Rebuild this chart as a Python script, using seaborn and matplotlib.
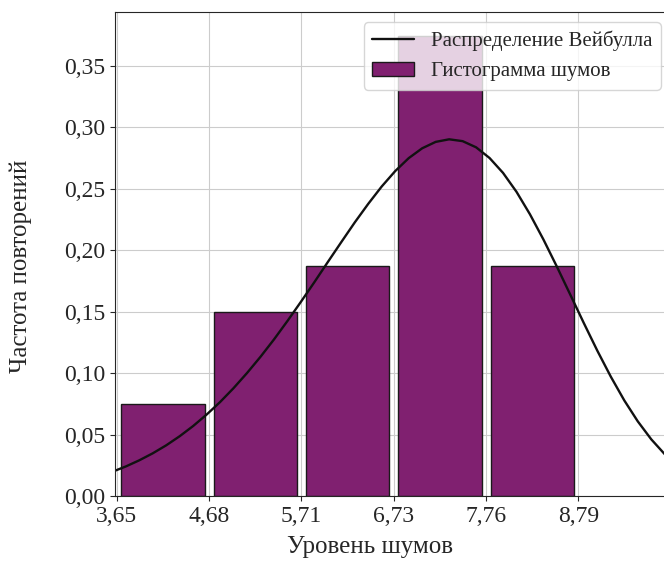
import seaborn as sns
import matplotlib
matplotlib.use('Agg')
from matplotlib import pyplot as plt

# Histogram of noise levels (density), bins
bin_edges = [3.65, 4.678, 5.706, 6.734, 7.762, 8.79]
bin_centers = [4.164, 5.192, 6.22, 7.248, 8.276]
density = [0.0748, 0.1496, 0.187, 0.3741, 0.187]
tick_labels = ['3,65', '4,68', '5,71', '6,73', '7,76', '8,79']
y_ticks = [0, 0.05, 0.1, 0.15, 0.2, 0.25, 0.3, 0.35]
y_tick_labels = ['0,00', '0,05', '0,10', '0,15', '0,20', '0,25', '0,30', '0,35']

# Weibull curve
curve_x = [3.6, 3.75, 3.9, 4.05, 4.2, 4.35, 4.5, 4.65, 4.8, 4.95, 5.1, 5.25,
           5.4, 5.55, 5.7, 5.85, 6.0, 6.15, 6.3, 6.45, 6.6, 6.75, 6.9, 7.05,
           7.2, 7.35, 7.5, 7.65, 7.8, 7.95, 8.1, 8.25, 8.4, 8.55, 8.7, 8.85,
           9.0, 9.15, 9.3, 9.45, 9.6, 9.75, 9.9]
curve_y = [0.0197, 0.0240, 0.0290, 0.0347, 0.0412, 0.0486, 0.0569, 0.0662,
           0.0764, 0.0877, 0.1000, 0.1132, 0.1273, 0.1423, 0.1579, 0.1739,
           0.1903, 0.2065, 0.2225, 0.2376, 0.2517, 0.2642, 0.2747, 0.2827,
           0.2879, 0.2900, 0.2885, 0.2835, 0.2748, 0.2627, 0.2473, 0.2290,
           0.2085, 0.1864, 0.1635, 0.1405, 0.1181, 0.0970, 0.0777, 0.0607,
           0.0461, 0.0340, 0.0243]

sns.set_style('ticks', {'axes.grid': True})
plt.rcParams['font.family'] = ['Liberation Serif', 'DejaVu Serif']
plt.rcParams['font.size'] = 17

fig = plt.figure(figsize=(6.64, 5.62), dpi=100)
ax = fig.add_axes([115 / 664, 66 / 562, 556 / 664, 484 / 562])

sns.histplot(x=bin_centers, weights=density, bins=bin_edges, shrink=0.9,
             color='#802070', edgecolor='#1a1a1a', linewidth=1, alpha=1,
             label='Гистограмма шумов', ax=ax)
sns.lineplot(x=curve_x, y=curve_y, color='#111111', linewidth=1.7,
             label='Распределение Вейбулла', ax=ax)

ax.set_xlim(3.63, 9.82)
ax.set_ylim(0, 0.3935)
ax.set_xticks(bin_edges)
ax.set_xticklabels(tick_labels)
ax.set_yticks(y_ticks)
ax.set_yticklabels(y_tick_labels)
ax.set_xlabel('Уровень шумов', fontsize=18)
ax.set_ylabel('Частота повторений', fontsize=18)
ax.xaxis.set_label_coords(0.4586, -0.082)
ax.yaxis.set_label_coords(-0.149, 0.474)
ax.legend(loc='upper right', fontsize=15)

fig.savefig('out.png', dpi=100)
